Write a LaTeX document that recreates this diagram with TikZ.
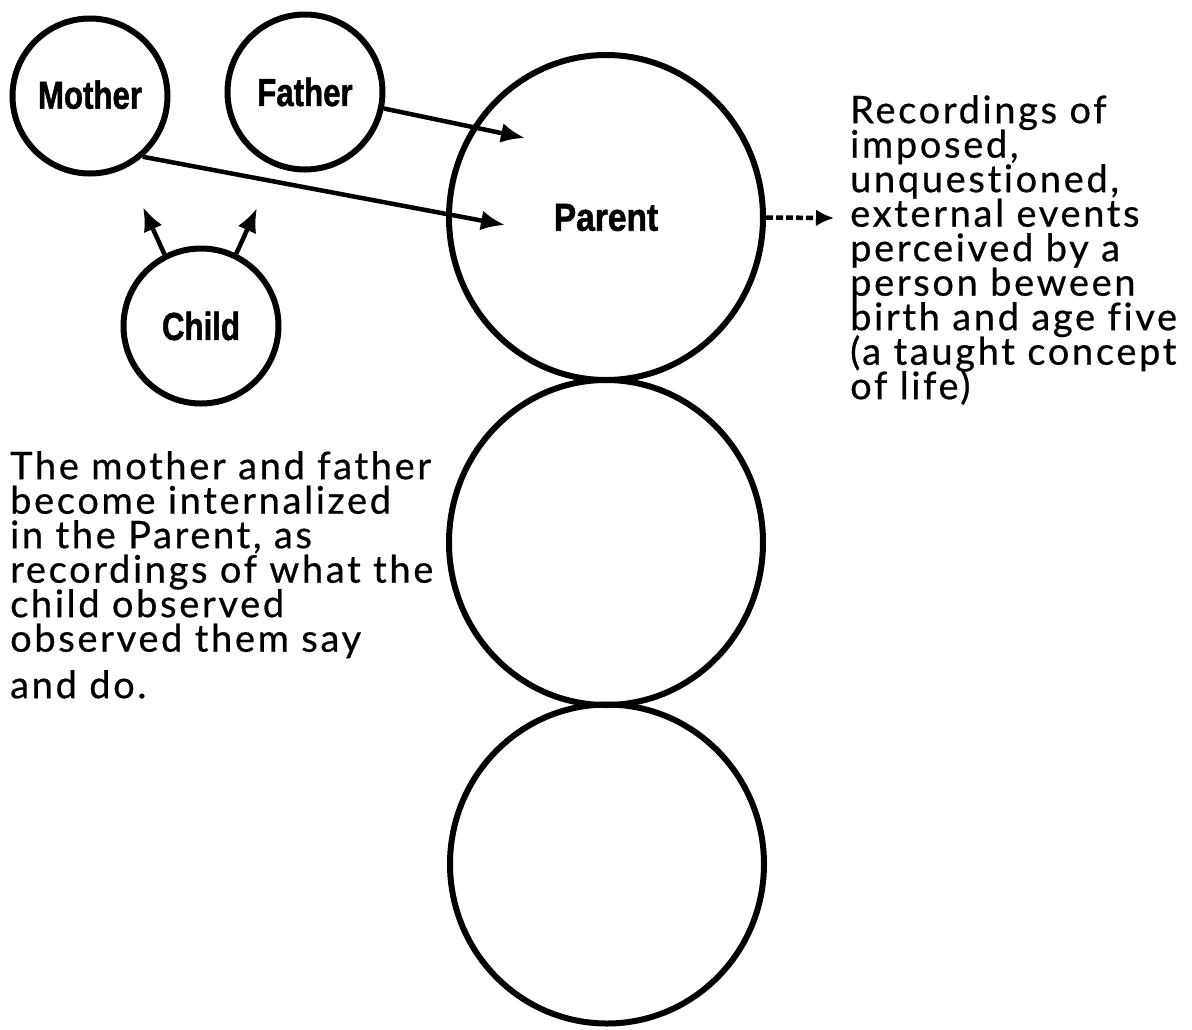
\documentclass[tikz,border=0pt]{standalone}
\usepackage{fontspec}
\usepackage{graphicx}
\setmainfont[Ligatures=NoCommon,LetterSpace=7,FakeBold=0.6]{Lato}
\newfontfamily\labelfont[FakeBold=1.5]{Liberation Sans}
\usetikzlibrary{arrows.meta,shapes.geometric}
\newcommand\notefont{\fontsize{38}{34.5}\selectfont\lineskiplimit=-100pt\relax}

\begin{document}
\begin{tikzpicture}[x=1pt,y=-1pt,
  ego/.style={ellipse, draw, line width=6pt, minimum width=314pt,
    minimum height=325pt, inner sep=0pt,
    font=\labelfont\bfseries\fontsize{39}{39}\selectfont},
  person/.style={circle, draw, line width=6pt, minimum size=155pt, inner sep=0pt,
    font=\labelfont\bfseries\fontsize{39}{39}\selectfont},
  flow/.style={line width=4.5pt, -{Latex[length=24pt,width=20pt]}},
  outflow/.style={line width=4.5pt, dash pattern=on 7pt off 3pt,
    -{Latex[length=18pt,width=17pt]}},
  note/.style={anchor=north west, align=left, inner sep=0pt, font=\notefont}
]
\useasboundingbox (0,0) rectangle (1192,1029);

% ego states stacked vertically
\node[ego] (p) at (606,217.5) {\scalebox{0.86}[1]{Parent}};
\node[ego] (a) at (606,542.5) {};
\node[ego, minimum height=319pt] (k) at (607,864) {};

% the people who are recorded
\node[person] (m) at (90,96)  {\raisebox{3pt}{\scalebox{0.8}[1]{Mother}}};
\node[person] (f) at (305,92) {\scalebox{0.8}[1]{Father}};
\node[person] (c) at (201,326) {\scalebox{0.8}[1]{Child}};

% free arrow ends
\coordinate (ftip) at (525,138);
\coordinate (mtip) at (505,225);
\coordinate (cl)   at (143,207);
\coordinate (cr)   at (257,208);
\coordinate (otip) at (834,218);

\draw[flow] (f) -- (ftip);
\draw[flow] (m.-49) -- (mtip);
\draw[flow] (c.117) -- (cl);
\draw[flow] (c.64) -- (cr);
\draw[outflow] (p.east) -- (otip);

% explanatory texts
\node[note] (rec) at (850,95) {Recordings of\\ imposed,\\ unquestioned,\\ external events\\
  perceived by a\\ person beween\\ birth and age five\\ (a taught concept\\ of life)};
\node[note] (int) at (10,451) {The mother and father\\ become internalized\\ in the Parent, as\\
  recordings of what the\\ child observed\\ observed them say\\[12pt] and do.};
\end{tikzpicture}
\end{document}
